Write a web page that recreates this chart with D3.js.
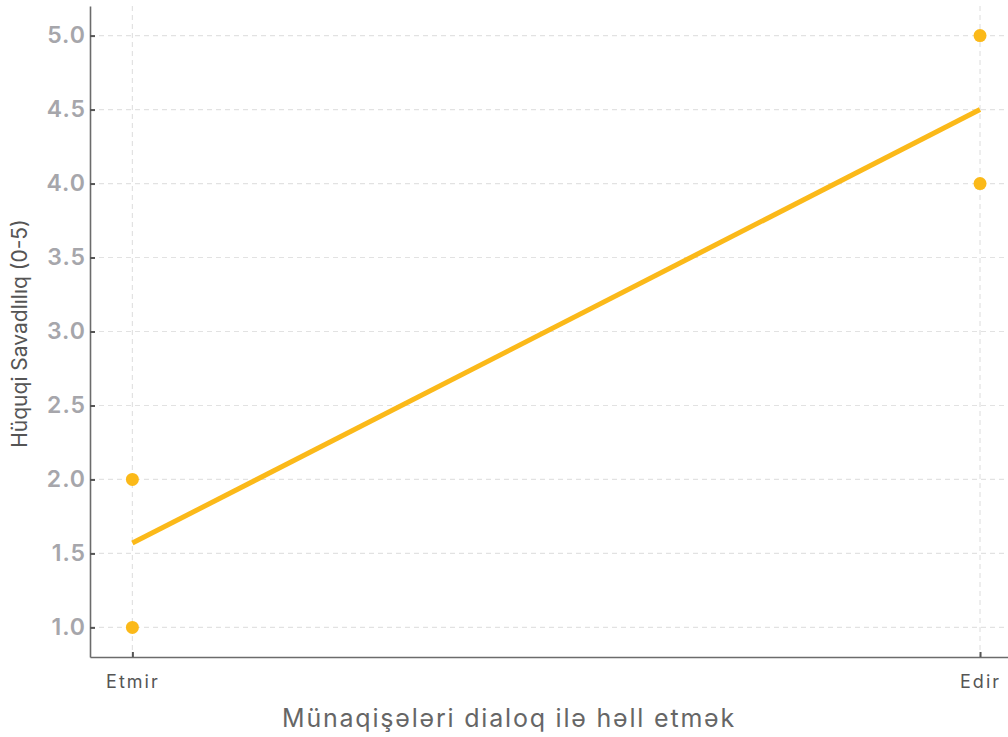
<!DOCTYPE html>
<html>
<head>
<meta charset="utf-8">
<script src="https://cdn.jsdelivr.net/npm/d3@7"></script>
<style>
  body { margin: 0; background: #fff; }
  svg { display: block; font-family: "Inter", "Lato", sans-serif; }
</style>
</head>
<body>
<div id="container"></div>
<script>
// data
const categories = ["Etmir", "Edir"];
const pointCategory = [0, 0, 1, 1];
const pointValues = [1.0, 2.0, 4.0, 5.0];
const fitValues = [1.57, 4.5];
const yTicks = [1.0, 1.5, 2.0, 2.5, 3.0, 3.5, 4.0, 4.5, 5.0];

const width = 1008;
const height = 737;
const plot = { left: 90, right: 1008, top: 6, bot: 657 };
const gold = "#fbb919";

const svg = d3.select("#container")
              .append("svg")
              .attr("width", width)
              .attr("height", height);

const xScale = d3.scaleLinear()
                 .domain([-0.05, 1.033])
                 .range([plot.left, plot.right]);
const yScale = d3.scaleLinear()
                 .domain([0.8, 5.2])
                 .range([plot.bot, plot.top]);

// grid
const grid = svg.append("g").attr("class", "grid");
grid.selectAll("line.h")
    .data(yTicks)
    .enter()
    .append("line")
    .attr("x1", plot.left)
    .attr("x2", plot.right)
    .attr("y1", (d) => yScale(d))
    .attr("y2", (d) => yScale(d))
    .attr("stroke", "#e2e2e2")
    .attr("stroke-width", 1.2)
    .attr("stroke-dasharray", "5,4");
grid.selectAll("line.v")
    .data(categories)
    .enter()
    .append("line")
    .attr("x1", (d, i) => xScale(i))
    .attr("x2", (d, i) => xScale(i))
    .attr("y1", plot.top)
    .attr("y2", plot.bot)
    .attr("stroke", "#e2e2e2")
    .attr("stroke-width", 1.2)
    .attr("stroke-dasharray", "5,4");

// axes
const yAxis = d3.axisLeft(yScale)
                .tickValues(yTicks)
                .tickFormat(d3.format(".1f"))
                .tickSizeInner(-5)
                .tickSizeOuter(0)
                .tickPadding(4);
const gy = svg.append("g")
              .attr("id", "y-axis")
              .attr("transform", "translate(" + plot.left + ",0)")
              .call(yAxis);
gy.select(".domain").attr("stroke", "#6b6b6b").attr("stroke-width", 1.6);
gy.selectAll(".tick line").attr("stroke", "#555").attr("stroke-width", 2);
gy.selectAll(".tick text")
  .attr("fill", "#a6a6ab")
  .style("font-family", "Inter, sans-serif")
  .style("font-size", "23px")
  .style("font-weight", "600")
  .style("letter-spacing", "1px");

const xAxis = d3.axisBottom(xScale)
                .tickValues([0, 1])
                .tickFormat((d) => categories[d])
                .tickSizeInner(-5)
                .tickSizeOuter(0)
                .tickPadding(18);
const gx = svg.append("g")
              .attr("id", "x-axis")
              .attr("transform", "translate(0," + plot.bot + ")")
              .call(xAxis);
gx.select(".domain").attr("stroke", "#6b6b6b").attr("stroke-width", 1.6);
gx.selectAll(".tick line").attr("stroke", "#555").attr("stroke-width", 2);
gx.selectAll(".tick text")
  .attr("fill", "#555")
  .style("font-family", "Inter, sans-serif")
  .style("font-size", "18px")
  .style("letter-spacing", "2px");

// axis titles
svg.append("text")
   .text("Münaqişələri dialoq ilə həll etmək")
   .attr("x", 509)
   .attr("y", 727)
   .attr("text-anchor", "middle")
   .attr("fill", "#666")
   .style("font-size", "25px")
   .style("letter-spacing", "1.8px");
svg.append("text")
   .text("Hüquqi Savadlılıq (0-5)")
   .attr("transform", "translate(27," + ((plot.top + plot.bot) / 2 + 2) + ")rotate(-90)")
   .attr("text-anchor", "middle")
   .attr("fill", "#555")
   .style("font-size", "21px");

// fit line
svg.append("line")
   .attr("x1", xScale(0))
   .attr("y1", yScale(fitValues[0]))
   .attr("x2", xScale(1))
   .attr("y2", yScale(fitValues[1]))
   .attr("stroke", gold)
   .attr("stroke-width", 5);

// points
svg.append("g")
   .selectAll("circle")
   .data(pointValues)
   .enter()
   .append("circle")
   .attr("cx", (d, i) => xScale(pointCategory[i]))
   .attr("cy", (d) => yScale(d))
   .attr("r", 6.5)
   .attr("fill", gold);
</script>
</body>
</html>
